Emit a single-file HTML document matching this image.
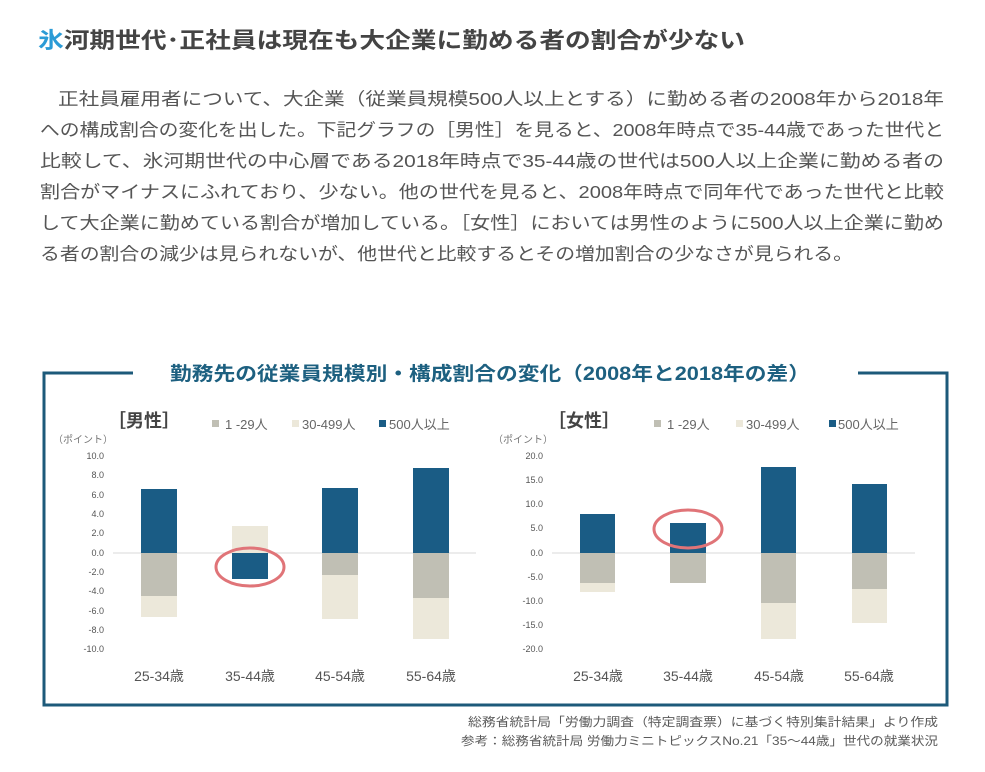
<!DOCTYPE html>
<html><head><meta charset="utf-8"><style>
html,body{margin:0;padding:0;background:#fff;}
svg{display:block;font-family:"Liberation Sans","Noto Sans CJK JP",sans-serif;}
</style></head><body>
<svg width="985" height="772" viewBox="0 0 985 772" xmlns="http://www.w3.org/2000/svg">
<rect width="985" height="772" fill="#fff"/>
<text x="38" y="48" font-size="22" font-weight="bold" fill="#444" textLength="707" lengthAdjust="spacingAndGlyphs"><tspan fill="#2b9bd6">氷</tspan>河期世代･正社員は現在も大企業に勤める者の割合が少ない</text>
<g font-size="17.5" fill="#555">
<text x="58" y="105" textLength="886" lengthAdjust="spacingAndGlyphs">正社員雇用者について、大企業（従業員規模500人以上とする）に勤める者の2008年から2018年</text>
<text x="40" y="136" textLength="904" lengthAdjust="spacingAndGlyphs">への構成割合の変化を出した。下記グラフの［男性］を見ると、2008年時点で35-44歳であった世代と</text>
<text x="40" y="167" textLength="904" lengthAdjust="spacingAndGlyphs">比較して、氷河期世代の中心層である2018年時点で35-44歳の世代は500人以上企業に勤める者の</text>
<text x="40" y="198" textLength="904" lengthAdjust="spacingAndGlyphs">割合がマイナスにふれており、少ない。他の世代を見ると、2008年時点で同年代であった世代と比較</text>
<text x="40" y="229" textLength="904" lengthAdjust="spacingAndGlyphs">して大企業に勤めている割合が増加している。［女性］においては男性のように500人以上企業に勤め</text>
<text x="40" y="260" textLength="813" lengthAdjust="spacingAndGlyphs">る者の割合の減少は見られないが、他世代と比較するとその増加割合の少なさが見られる。</text>
</g>
<g stroke="#1d5a7a" stroke-width="3" fill="none">
<path d="M133 373 H44 V705 H947 V373 H858"/>
</g>
<text x="490" y="380" text-anchor="middle" font-size="19" font-weight="bold" fill="#1d6080" textLength="640" lengthAdjust="spacingAndGlyphs">勤務先の従業員規模別・構成割合の変化（2008年と2018年の差）</text>

<text x="108" y="427" font-size="18" font-weight="bold" fill="#444">［男性］</text>
<rect x="212" y="420" width="7" height="7" fill="#c0bfb4"/><text x="225" y="429" font-size="13" fill="#666">1 -29人</text>
<rect x="292" y="420" width="7" height="7" fill="#ece8da"/><text x="302" y="429" font-size="13" fill="#666">30-499人</text>
<rect x="379" y="420" width="7" height="7" fill="#1a5c85"/><text x="389" y="429" font-size="13" fill="#666">500人以上</text>
<text x="53" y="443" font-size="10" fill="#777">（ポイント）</text>
<g font-size="9" fill="#555" text-anchor="end">
<text x="104" y="459">10.0</text><text x="104" y="478">8.0</text><text x="104" y="498">6.0</text><text x="104" y="517">4.0</text><text x="104" y="536">2.0</text><text x="104" y="556">0.0</text><text x="104" y="575">-2.0</text><text x="104" y="594">-4.0</text><text x="104" y="614">-6.0</text><text x="104" y="633">-8.0</text><text x="104" y="652">-10.0</text>
</g>
<line x1="113" y1="553" x2="476" y2="553" stroke="#d8d8d8" stroke-width="1"/>
<rect x="141" y="489" width="36" height="64" fill="#1a5c85"/>
<rect x="141" y="553" width="36" height="43" fill="#c0bfb4"/>
<rect x="141" y="596" width="36" height="21" fill="#ece8da"/>
<rect x="232" y="526" width="36" height="27" fill="#ece8da"/>
<rect x="232" y="553" width="36" height="26" fill="#1a5c85"/>
<rect x="322" y="488" width="36" height="65" fill="#1a5c85"/>
<rect x="322" y="553" width="36" height="22" fill="#c0bfb4"/>
<rect x="322" y="575" width="36" height="44" fill="#ece8da"/>
<rect x="413" y="468" width="36" height="85" fill="#1a5c85"/>
<rect x="413" y="553" width="36" height="45" fill="#c0bfb4"/>
<rect x="413" y="598" width="36" height="41" fill="#ece8da"/>
<ellipse cx="250" cy="567" rx="34" ry="19" fill="none" stroke="#e07478" stroke-width="3"/>
<g font-size="14" fill="#555" text-anchor="middle">
<text x="159" y="681">25-34歳</text><text x="250" y="681">35-44歳</text><text x="340" y="681">45-54歳</text><text x="431" y="681">55-64歳</text>
</g>

<text x="548" y="427" font-size="18" font-weight="bold" fill="#444">［女性］</text>
<rect x="654" y="420" width="7" height="7" fill="#c0bfb4"/><text x="667" y="429" font-size="13" fill="#666">1 -29人</text>
<rect x="736" y="420" width="7" height="7" fill="#ece8da"/><text x="746" y="429" font-size="13" fill="#666">30-499人</text>
<rect x="829" y="420" width="7" height="7" fill="#1a5c85"/><text x="838" y="429" font-size="13" fill="#666">500人以上</text>
<text x="493" y="443" font-size="10" fill="#777">（ポイント）</text>
<g font-size="9" fill="#555" text-anchor="end">
<text x="543" y="459">20.0</text><text x="543" y="483">15.0</text><text x="543" y="507">10.0</text><text x="543" y="531">5.0</text><text x="543" y="556">0.0</text><text x="543" y="580">-5.0</text><text x="543" y="604">-10.0</text><text x="543" y="628">-15.0</text><text x="543" y="652">-20.0</text>
</g>
<line x1="552" y1="553" x2="915" y2="553" stroke="#d8d8d8" stroke-width="1"/>
<rect x="580" y="514" width="35" height="39" fill="#1a5c85"/>
<rect x="580" y="553" width="35" height="30" fill="#c0bfb4"/>
<rect x="580" y="583" width="35" height="9" fill="#ece8da"/>
<rect x="670" y="523" width="36" height="30" fill="#1a5c85"/>
<rect x="670" y="553" width="36" height="30" fill="#c0bfb4"/>
<rect x="761" y="467" width="35" height="86" fill="#1a5c85"/>
<rect x="761" y="553" width="35" height="50" fill="#c0bfb4"/>
<rect x="761" y="603" width="35" height="36" fill="#ece8da"/>
<rect x="852" y="484" width="35" height="69" fill="#1a5c85"/>
<rect x="852" y="553" width="35" height="36" fill="#c0bfb4"/>
<rect x="852" y="589" width="35" height="34" fill="#ece8da"/>
<ellipse cx="688" cy="529" rx="34" ry="19" fill="none" stroke="#e07478" stroke-width="3"/>
<g font-size="14" fill="#555" text-anchor="middle">
<text x="598" y="681">25-34歳</text><text x="688" y="681">35-44歳</text><text x="779" y="681">45-54歳</text><text x="869" y="681">55-64歳</text>
</g>

<g font-size="12" fill="#5a5a5a">
<text x="468" y="726" textLength="470" lengthAdjust="spacingAndGlyphs">総務省統計局「労働力調査（特定調査票）に基づく特別集計結果」より作成</text>
<text x="461" y="745" textLength="477" lengthAdjust="spacingAndGlyphs">参考：総務省統計局 労働力ミニトピックスNo.21「35〜44歳」世代の就業状況</text>
</g>
</svg>
</body></html>
